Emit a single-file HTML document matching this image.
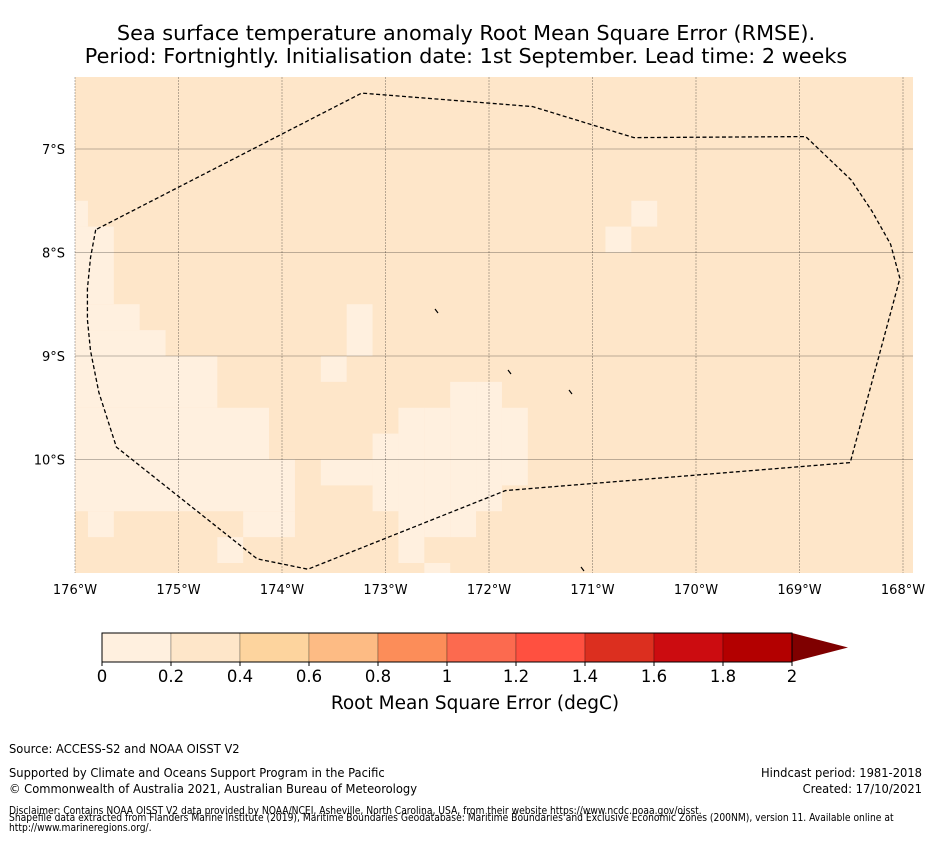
<!DOCTYPE html>
<html><head><meta charset="utf-8"><style>
body{margin:0;background:#fff;width:931px;height:839px;overflow:hidden;font-family:"DejaVu Sans","Liberation Sans",sans-serif}
svg text{font-family:"DejaVu Sans","Liberation Sans",sans-serif}
.ft{font-family:"DejaVu Sans Condensed","Liberation Sans Narrow","Liberation Sans",sans-serif}
</style></head><body>
<svg id="chart" width="931" height="839">
<text x="466" y="40" text-anchor="middle" font-size="20.8">Sea surface temperature anomaly Root Mean Square Error (RMSE).</text>
<text x="466" y="63" text-anchor="middle" font-size="20.8">Period: Fortnightly. Initialisation date: 1st September. Lead time: 2 weeks</text>
<defs><clipPath id="mapclip"><rect x="75" y="77" width="838" height="496"/></clipPath></defs>
<g id="map" clip-path="url(#mapclip)"></g>
<g id="axes"></g>
<g id="cbar"></g>
<text x="475" y="709" text-anchor="middle" font-size="18.5">Root Mean Square Error (degC)</text>
<g class="ft" font-size="12.8">
<text x="9" y="753" class="ft">Source: ACCESS-S2 and NOAA OISST V2</text>
<text x="9" y="777" class="ft">Supported by Climate and Oceans Support Program in the Pacific</text>
<text x="9" y="793" class="ft">© Commonwealth of Australia 2021, Australian Bureau of Meteorology</text>
<text x="922" y="777" text-anchor="end" class="ft">Hindcast period: 1981-2018</text>
<text x="922" y="793" text-anchor="end" class="ft">Created: 17/10/2021</text>
<text x="9" y="814" font-size="10.2" class="ft">Disclaimer: Contains NOAA OISST V2 data provided by NOAA/NCEI, Asheville, North Carolina, USA, from their website https://www.ncdc.noaa.gov/oisst.</text>
<text x="9" y="821" font-size="10.2" class="ft">Shapefile data extracted from Flanders Marine Institute (2019), Maritime Boundaries Geodatabase: Maritime Boundaries and Exclusive Economic Zones (200NM), version 11. Available online at</text>
<text x="9" y="831" font-size="10.2" class="ft">http://www.marineregions.org/.</text>
</g>
</svg>
<script>
const lonTicks=[-176,-175,-174,-173,-172,-171,-170,-169,-168];
const lonLabels=["176°W","175°W","174°W","173°W","172°W","171°W","170°W","169°W","168°W"];
const latTicks=[-7,-8,-9,-10];
const latLabels=["7°S","8°S","9°S","10°S"];
const levels=[0,0.2,0.4,0.6,0.8,1,1.2,1.4,1.6,1.8,2];
const levelLabels=["0","0.2","0.4","0.6","0.8","1","1.2","1.4","1.6","1.8","2"];
const levelColors=["#fff0df","#fee6c9","#fdd49e","#fdbb84","#fc8d59","#fc6a4f","#ff5040","#dc2f1f","#cc0c10","#b30000"];
const extendColor="#7f0000";
const bgValue=0.3;
// low-RMSE cells: [lon0, lon1, latTop, latBottom]
const cellLon0=[-176.2,-176.2,-176.2,-176.2,-176.2,-176.2,-176.2,-175.875,-174.375,-174.625,-173.375,-173.625,-173.625,-173.125,-172.875,-172.625,-172.625,-172.375,-172.125,-171.875,-170.875,-170.625];
const cellLon1=[-175.875,-175.625,-175.375,-175.125,-174.625,-174.125,-173.875,-175.625,-173.875,-174.375,-173.125,-173.375,-173.125,-172.875,-172.625,-172.375,-172.375,-172.125,-171.875,-171.625,-170.625,-170.375];
const cellLatTop=[-7.5,-7.75,-8.5,-8.75,-9,-9.5,-10,-10.5,-10.5,-10.75,-8.5,-9,-10,-9.75,-9.5,-9.5,-11,-9.25,-9.25,-9.5,-7.75,-7.5];
const cellLatBot=[-7.75,-8.5,-8.75,-9,-9.5,-10,-10.5,-10.75,-10.75,-11,-9,-9.25,-10.25,-10.5,-11,-10.75,-11.2,-10.75,-10.5,-10.25,-8,-7.75];
const cellValue=[0.15,0.15,0.15,0.15,0.15,0.15,0.15,0.15,0.15,0.15,0.15,0.15,0.15,0.15,0.15,0.15,0.15,0.15,0.15,0.15,0.15,0.15];
const eezLon=[-175.8,-175.85,-175.88,-175.88,-175.85,-175.77,-175.6,-174.24,-173.75,-171.84,-168.51,-168.03,-168.12,-168.3,-168.5,-168.94,-170.6,-171.58,-173.23,-175.8];
const eezLat=[-7.78,-8.05,-8.35,-8.65,-8.95,-9.35,-9.88,-10.96,-11.06,-10.3,-10.03,-8.25,-7.92,-7.6,-7.3,-6.88,-6.89,-6.59,-6.46,-7.78];
const NS="http://www.w3.org/2000/svg";
const X0=75,PX=103.5,Y7=149;
const xs=lon=>X0+(lon+176)*PX;
const ys=lat=>Y7+(-7-lat)*PX;
function col(v){for(let i=0;i<levelColors.length;i++)if(v<levels[i+1])return levelColors[i];return extendColor;}
function mk(tag,attrs,parent){const e=document.createElementNS(NS,tag);for(const k in attrs)e.setAttribute(k,attrs[k]);parent.appendChild(e);return e;}
const map=document.getElementById('map');
let bg=mk('rect',{x:75,y:77,width:838,height:496,fill:col(bgValue)},map);


for(let i=0;i<cellLon0.length;i++){
 const r=mk('rect',{x:xs(cellLon0[i]),y:ys(cellLatTop[i]),width:xs(cellLon1[i])-xs(cellLon0[i]),height:ys(cellLatBot[i])-ys(cellLatTop[i]),fill:col(cellValue[i])},map);
 
 
}
const ax=document.getElementById('axes');
lonTicks.forEach((l,i)=>{
 const g=mk('line',{x1:xs(l),x2:xs(l),y1:77,y2:573,stroke:"#000","stroke-opacity":0.35,"stroke-width":0.8,"stroke-dasharray":"2,1"},ax);
 
 
 const t=mk('text',{x:xs(l),y:594,"text-anchor":"middle","font-size":13},ax);t.textContent=lonLabels[i];
 
 
});
latTicks.forEach((l,i)=>{
 const g=mk('line',{x1:75,x2:913,y1:ys(l),y2:ys(l),stroke:"#000","stroke-opacity":0.35,"stroke-width":0.8},ax);
 
 
 const t=mk('text',{x:65,y:ys(l)+5,"text-anchor":"end","font-size":13},ax);t.textContent=latLabels[i];
 
 
});
const pts=eezLon.map((l,i)=>xs(l)+','+ys(eezLat[i])).join(' ');
const eez=mk('polyline',{points:pts,fill:"none",stroke:"#000","stroke-width":1.3,"stroke-dasharray":"4,2.5"},map);


[[437,311],[510,372],[571,392],[583,569]].forEach(p=>{
 const s=mk('line',{x1:p[0]-2,y1:p[1]-2,x2:p[0]+1,y2:p[1]+2,stroke:"#000","stroke-width":1.2},map);
 
 
});
const cb=document.getElementById('cbar');
const CX0=102,CX1=792,CY=633,CH=29;
const cx=v=>CX0+(v-levels[0])/(levels[levels.length-1]-levels[0])*(CX1-CX0);
for(let i=0;i<levelColors.length;i++){
 const r=mk('rect',{x:cx(levels[i]),y:CY,width:cx(levels[i+1])-cx(levels[i]),height:CH,fill:levelColors[i],stroke:"rgba(0,0,0,0.25)","stroke-width":1},cb);
 
 
}
const arr=mk('polygon',{points:`${CX1},${CY} ${848},${CY+CH/2} ${CX1},${CY+CH}`,fill:extendColor},cb);


const ob=mk('rect',{x:CX0,y:CY,width:CX1-CX0,height:CH,fill:"none",stroke:"#000","stroke-width":1},cb);


levels.forEach((v,i)=>{
 mk('line',{x1:cx(v),x2:cx(v),y1:CY+CH,y2:CY+CH+4,stroke:"#000"},cb);
 const t=mk('text',{x:cx(v),y:682,"text-anchor":"middle","font-size":16.5},cb);t.textContent=levelLabels[i];
 
 
});
</script>
</body></html>
